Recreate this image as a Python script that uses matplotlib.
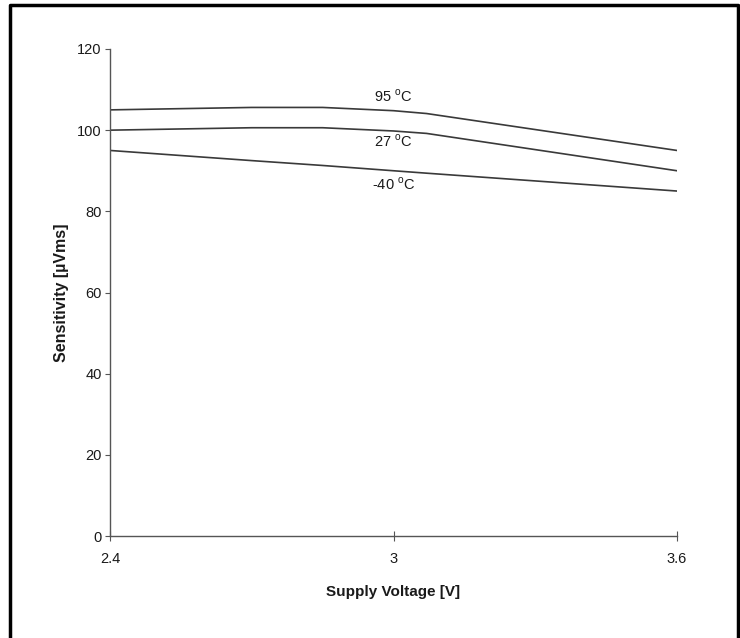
import matplotlib
matplotlib.use("Agg")
import matplotlib.pyplot as plt
from matplotlib.lines import Line2D

plt.rcParams['font.family'] = ['Liberation Sans', 'DejaVu Sans']
plt.rcParams['mathtext.fontset'] = 'custom'
plt.rcParams['mathtext.rm'] = 'Liberation Sans'

# supply voltage [V]
voltage = [2.4, 2.7, 2.85, 3.0, 3.07, 3.6]
# sensitivity per temperature
sens_95 = [105, 105.6, 105.6, 104.8, 104.1, 95]
sens_27 = [100, 100.6, 100.6, 99.8, 99.2, 90]
sens_m40 = [95, 92.5, 91.3, 90, 89.4, 85]

labels = [r"95 $^\mathrm{o}$C", r"27 $^\mathrm{o}$C", r"-40 $^\mathrm{o}$C"]
label_x = [3.0, 3.0, 3.0]
label_y = [108.3, 97.2, 86.7]

fig = plt.figure(figsize=(7.4, 6.38), dpi=100)
ax = fig.add_axes([110/740, 1-536/638, (677-110)/740, (536-49)/638])

lc = "#3a3a3a"
for s in [sens_95, sens_27, sens_m40]:
    ax.plot(voltage, s, color=lc, lw=1.2)

for t, x, y in zip(labels, label_x, label_y):
    ax.text(x, y, t, ha="center", va="center", fontsize=10.5, color="#1a1a1a")

ax.set_xlim(2.4, 3.6)
ax.set_ylim(0, 120)
ax.set_xticks([2.4, 3.0, 3.6])
ax.set_xticklabels(["2.4", "3", "3.6"])
ax.set_yticks(range(0, 121, 20))

for sp in ["top", "right"]:
    ax.spines[sp].set_visible(False)
for sp in ["left", "bottom"]:
    ax.spines[sp].set_color("#555555")
    ax.spines[sp].set_linewidth(1.0)

ax.tick_params(axis="y", direction="out", length=3.5, color="#555555", labelsize=10.5, pad=2.5,
               labelcolor="#1a1a1a")
ax.tick_params(axis="x", direction="inout", length=7, color="#555555", labelsize=10.5, pad=8,
               labelcolor="#1a1a1a")

ax.set_xlabel("Supply Voltage [V]", fontsize=11, fontweight="bold", labelpad=14, color="#1a1a1a")
ax.set_ylabel("Sensitivity [µVms]", fontsize=11.5, fontweight="bold", labelpad=6, color="#1a1a1a")

# outer frame (no bottom edge)
fig.add_artist(Line2D([10/740, 10/740, 738/740, 738/740], [0, 1-4.5/638, 1-4.5/638, 0],
                      transform=fig.transFigure, color="black", lw=2.5))

fig.savefig("out.png", dpi=100)
